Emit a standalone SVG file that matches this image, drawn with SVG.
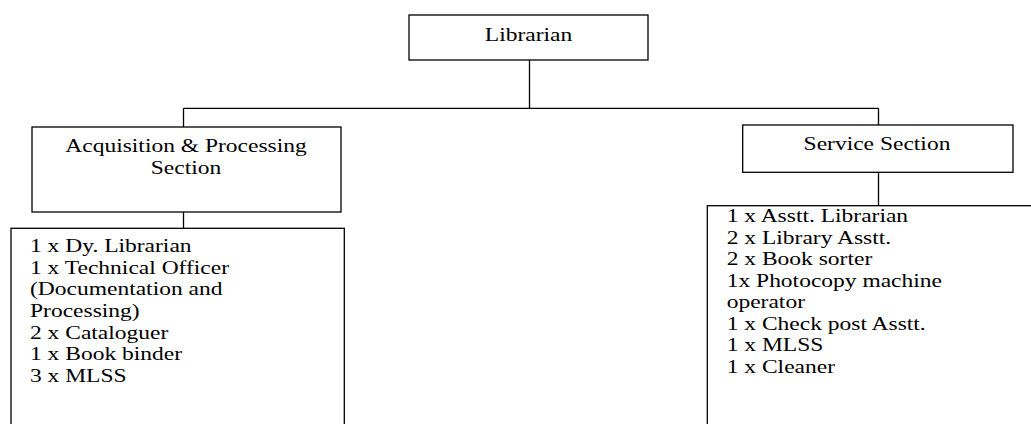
<svg xmlns="http://www.w3.org/2000/svg" width="1031" height="424" viewBox="0 0 1031 424">
<style>
.box{fill:#fff;stroke:#000;stroke-width:1.3}
.ln{fill:none;stroke:#000;stroke-width:1.3}
text{font-family:"Liberation Serif","Times New Roman",serif;font-size:19px;fill:#000}
</style>
<rect width="1031" height="424" fill="#fff"/>
<g id="connectors">
<path class="ln" d="M529.5 60 V108.3 M183.5 108.3 H878.5 M183.5 108.3 V127 M878.5 108.3 V125 M183.5 212 V228.3 M878.5 172.3 V205.7"/>
</g>
<g id="librarian">
<rect class="box" x="409" y="15" width="239" height="45"/>
<text transform="translate(528.5,40.7) scale(1.237,1)" text-anchor="middle">Librarian</text>
</g>
<g id="acquisition">
<rect class="box" x="32" y="127" width="309" height="85"/>
<text transform="translate(186,152) scale(1.237,1)" text-anchor="middle">Acquisition &amp; Processing</text>
<text transform="translate(186,173.5) scale(1.237,1)" text-anchor="middle">Section</text>
</g>
<g id="service">
<rect class="box" x="742.7" y="125" width="270.3" height="47.3"/>
<text transform="translate(877,150) scale(1.237,1)" text-anchor="middle">Service Section</text>
</g>
<g id="acquisition-staff">
<rect class="box" x="11" y="228.3" width="333.3" height="210"/>
<text transform="translate(30,252.3) scale(1.237,1)"><tspan x="0" y="0">1 x Dy. Librarian</tspan><tspan x="0" dy="21.6">1 x Technical Officer</tspan><tspan x="0" dy="21.6">(Documentation and</tspan><tspan x="0" dy="21.6">Processing)</tspan><tspan x="0" dy="21.6">2 x Cataloguer</tspan><tspan x="0" dy="21.6">1 x Book binder</tspan><tspan x="0" dy="21.6">3 x MLSS</tspan></text>
</g>
<g id="service-staff">
<rect class="box" x="707.3" y="205.7" width="340" height="240"/>
<text transform="translate(726.7,222.3) scale(1.237,1)"><tspan x="0" y="0">1 x Asstt. Librarian</tspan><tspan x="0" dy="21.5">2 x Library Asstt.</tspan><tspan x="0" dy="21.5">2 x Book sorter</tspan><tspan x="0" dy="21.5">1x Photocopy machine</tspan><tspan x="0" dy="21.5">operator</tspan><tspan x="0" dy="21.5">1 x Check post Asstt.</tspan><tspan x="0" dy="21.5">1 x MLSS</tspan><tspan x="0" dy="21.5">1 x Cleaner</tspan></text>
</g>
</svg>
